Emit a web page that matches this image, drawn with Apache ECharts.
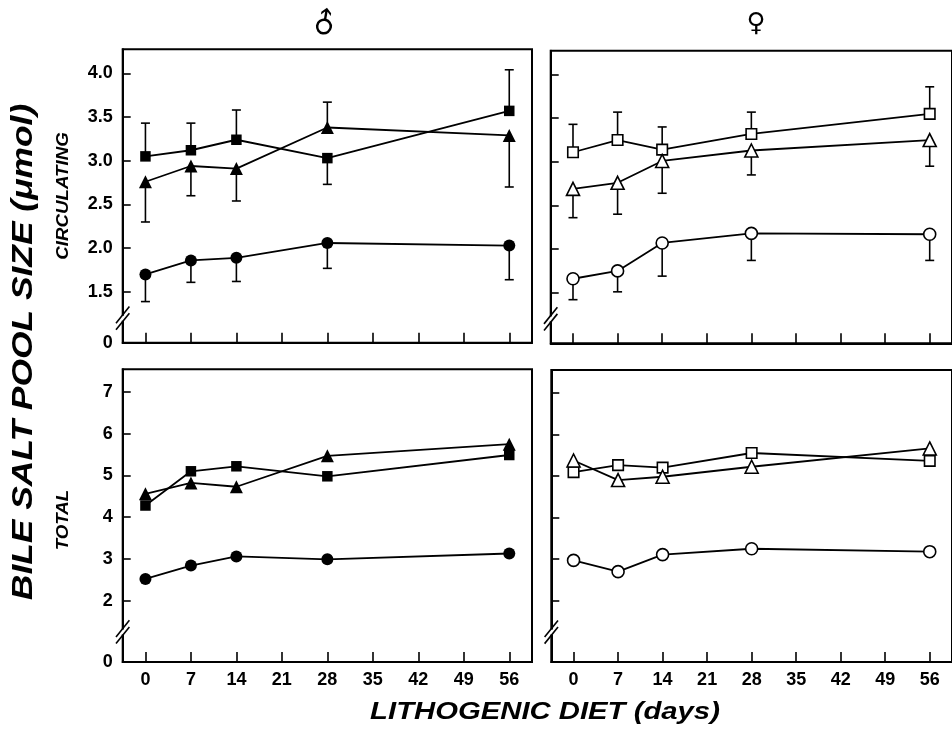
<!DOCTYPE html>
<html><head><meta charset="utf-8">
<script src="https://cdn.jsdelivr.net/npm/echarts@6/dist/echarts.min.js"></script>
<style>html,body{margin:0;padding:0;background:#fff}#c{width:952px;height:735px}</style>
</head><body><div id="c"></div>
<script>
// ---- data ----
const days = [0, 7, 14, 28, 56];
const xTicks = [0, 7, 14, 21, 28, 35, 42, 49, 56];
const circTicks = [1.5, 2.0, 2.5, 3.0, 3.5, 4.0];
const totalTicks = [2, 3, 4, 5, 6, 7];

// male, circulating (filled symbols)
const maleCircSquare = [3.05, 3.12, 3.24, 3.03, 3.57];
const maleCircSquareErr = [3.43, 3.43, 3.58, 2.73, 4.04];
const maleCircTriangle = [2.76, 2.94, 2.91, 3.38, 3.29];
const maleCircTriangleErr = [2.30, 2.60, 2.54, 3.67, 2.70];
const maleCircCircle = [1.70, 1.86, 1.89, 2.06, 2.03];
const maleCircCircleErr = [1.39, 1.61, 1.62, 1.77, 1.64];
// female, circulating (open symbols)
const femCircSquare = [3.11, 3.25, 3.14, 3.32, 3.55];
const femCircSquareErr = [3.43, 3.57, 3.40, 3.57, 3.86];
const femCircTriangle = [2.69, 2.76, 3.01, 3.13, 3.25];
const femCircTriangleErr = [2.36, 2.40, 2.64, 2.85, 2.95];
const femCircCircle = [1.66, 1.75, 2.07, 2.18, 2.17];
const femCircCircleErr = [1.42, 1.51, 1.69, 1.87, 1.87];
// male, total
const maleTotSquare = [4.28, 5.10, 5.22, 4.98, 5.49];
const maleTotTriangle = [4.56, 4.82, 4.73, 5.47, 5.75];
const maleTotCircle = [2.52, 2.84, 3.06, 2.99, 3.13];
// female, total
const femTotSquare = [5.09, 5.26, 5.20, 5.55, 5.36];
const femTotTriangle = [5.37, 4.90, 4.98, 5.22, 5.66];
const femTotCircle = [2.97, 2.70, 3.11, 3.25, 3.18];

// ---- axis ranges (broken axes: bottom tick is labelled 0) ----
const xMin = -3.5, xMax = 59.5;
const circMin = 0.92, circMax = 4.274, circBreak = 1.2;
const totMin = 0.53, totMax = 7.544, totBreak = 1.25;

const chart = echarts.init(document.getElementById('c'), null, {renderer: 'canvas'});
const FONT = '"Liberation Sans", Arial, sans-serif';

const grids = [
  {left: 122.7, top: 49.3, width: 409.3, height: 293.4},
  {left: 550.7, top: 50.7, width: 411.8, height: 292.6},
  {left: 122.7, top: 369.3, width: 409.3, height: 292.7},
  {left: 551.3, top: 370, width: 411.2, height: 292}
].map(g => Object.assign(g, {show: true, borderColor: '#000', borderWidth: 2, containLabel: false}));

function xAxis(idx, showLabel) {
  return {
    type: 'value', gridIndex: idx, min: xMin, max: xMax, position: 'bottom',
    axisLine: {show: true, onZero: false, lineStyle: {color: '#000', width: 2}},
    axisTick: {show: true, inside: true, length: 10, customValues: xTicks, lineStyle: {color: '#000', width: 1.6}},
    axisLabel: {show: showLabel, customValues: xTicks, margin: 9, color: '#000',
      fontFamily: FONT, fontWeight: 'bold', fontSize: 18},
    splitLine: {show: false}
  };
}
function yAxis(idx, min, max, ticks, showLabel, fmt) {
  const vals = [min].concat(ticks);
  return {
    type: 'value', gridIndex: idx, min: min, max: max, position: 'left',
    axisLine: {show: true, onZero: false, lineStyle: {color: '#000', width: 2}},
    axisTick: {show: true, inside: true, length: 8, customValues: vals, lineStyle: {color: '#000', width: 1.6}},
    axisLabel: {show: showLabel, customValues: vals, margin: 10, color: '#000',
      fontFamily: FONT, fontWeight: 'bold', fontSize: 18, formatter: fmt},
    splitLine: {show: false}
  };
}
const circFmt = v => (v < 1 ? '0' : v.toFixed(1));
const totFmt = v => (v < 1 ? '0' : String(Math.round(v)));

const SIZES = {rect: 10.5, triangle: 13, circle: 12};
function lineSeries(idx, vals, shape, filled) {
  return {
    type: 'line', xAxisIndex: idx, yAxisIndex: idx, silent: true, z: 3,
    data: days.map((d, i) => [d, vals[i]]),
    symbol: shape, symbolSize: SIZES[shape], showAllSymbol: true,
    itemStyle: {color: filled ? '#000' : '#fff', borderColor: '#000', borderWidth: filled ? 0 : 1.6},
    lineStyle: {color: '#000', width: 1.8}
  };
}
function errSeries(idx, vals, errs) {
  return {
    type: 'custom', xAxisIndex: idx, yAxisIndex: idx, silent: true, z: 2,
    data: days.map((d, i) => [d, vals[i], errs[i]]),
    encode: {x: 0, y: [1, 2]},
    renderItem: function (params, api) {
      const p0 = api.coord([api.value(0), api.value(1)]);
      const p1 = api.coord([api.value(0), api.value(2)]);
      const st = {stroke: '#000', lineWidth: 1.6};
      return {type: 'group', children: [
        {type: 'line', shape: {x1: p0[0], y1: p0[1], x2: p1[0], y2: p1[1]}, style: st},
        {type: 'line', shape: {x1: p1[0] - 4.5, y1: p1[1], x2: p1[0] + 4.5, y2: p1[1]}, style: st}
      ]};
    }
  };
}

const option = {
  animation: false,
  backgroundColor: '#fff',
  grid: grids,
  xAxis: [xAxis(0, false), xAxis(1, false), xAxis(2, true), xAxis(3, true)],
  yAxis: [
    yAxis(0, circMin, circMax, circTicks, true, circFmt),
    yAxis(1, circMin, circMax, circTicks, false, circFmt),
    yAxis(2, totMin, totMax, totalTicks, true, totFmt),
    yAxis(3, totMin, totMax, totalTicks, false, totFmt)
  ],
  series: [
    errSeries(0, maleCircSquare, maleCircSquareErr),
    errSeries(0, maleCircTriangle, maleCircTriangleErr),
    errSeries(0, maleCircCircle, maleCircCircleErr),
    lineSeries(0, maleCircSquare, 'rect', true),
    lineSeries(0, maleCircTriangle, 'triangle', true),
    lineSeries(0, maleCircCircle, 'circle', true),

    errSeries(1, femCircSquare, femCircSquareErr),
    errSeries(1, femCircTriangle, femCircTriangleErr),
    errSeries(1, femCircCircle, femCircCircleErr),
    lineSeries(1, femCircSquare, 'rect', false),
    lineSeries(1, femCircTriangle, 'triangle', false),
    lineSeries(1, femCircCircle, 'circle', false),

    lineSeries(2, maleTotSquare, 'rect', true),
    lineSeries(2, maleTotTriangle, 'triangle', true),
    lineSeries(2, maleTotCircle, 'circle', true),

    lineSeries(3, femTotSquare, 'rect', false),
    lineSeries(3, femTotTriangle, 'triangle', false),
    lineSeries(3, femTotCircle, 'circle', false)
  ]
};
chart.setOption(option);

// ---- titles and axis-break marks ----
const graphics = [
  {type: 'text', x: 24, y: 352, rotation: Math.PI / 2, scaleX: 1.22, z: 100,
    style: {text: 'BILE SALT POOL SIZE (\u03BCmol)', fontFamily: FONT, fontWeight: 'bold', fontStyle: 'italic',
      fontSize: 29, fill: '#000', align: 'center', verticalAlign: 'middle'}},
  {type: 'text', x: 63, y: 196, rotation: Math.PI / 2, scaleX: 1.1, z: 100,
    style: {text: 'CIRCULATING', fontFamily: FONT, fontWeight: 'bold', fontStyle: 'italic',
      fontSize: 17, fill: '#000', align: 'center', verticalAlign: 'middle'}},
  {type: 'text', x: 63, y: 520, rotation: Math.PI / 2, scaleX: 1.1, z: 100,
    style: {text: 'TOTAL', fontFamily: FONT, fontWeight: 'bold', fontStyle: 'italic',
      fontSize: 17, fill: '#000', align: 'center', verticalAlign: 'middle'}},
  {type: 'text', x: 545, y: 712, scaleX: 1.22, z: 100,
    style: {text: 'LITHOGENIC DIET (days)', fontFamily: FONT, fontWeight: 'bold', fontStyle: 'italic',
      fontSize: 24, fill: '#000', align: 'center', verticalAlign: 'middle'}},
  {type: 'text', x: 326, y: 25, rotation: Math.PI / 4 - 0.15, z: 100,
    style: {text: '\u2642', fontFamily: '"DejaVu Sans"', fontSize: 29, fill: '#000', align: 'center', verticalAlign: 'middle'}},
  {type: 'text', x: 756, y: 24, z: 100,
    style: {text: '\u2640', fontFamily: '"DejaVu Sans"', fontSize: 26, fill: '#000', align: 'center', verticalAlign: 'middle'}}
];
const breaks = [[0, circBreak], [1, circBreak], [2, totBreak], [3, totBreak]];
breaks.forEach(([idx, bv]) => {
  const p = chart.convertToPixel({xAxisIndex: idx, yAxisIndex: idx}, [xMin, bv]);
  const x = p[0], y = p[1];
  graphics.push({type: 'rect', z: 100, shape: {x: x - 2, y: y - 2.5, width: 4, height: 5}, style: {fill: '#fff'}});
  [-3.3, 3.3].forEach(off => {
    graphics.push({type: 'line', z: 101,
      shape: {x1: x - 6.7, y1: y + off + 8.3, x2: x + 6.7, y2: y + off - 8.3},
      style: {stroke: '#000', lineWidth: 1.6}});
  });
});
chart.setOption({graphic: graphics});
</script>
</body></html>
